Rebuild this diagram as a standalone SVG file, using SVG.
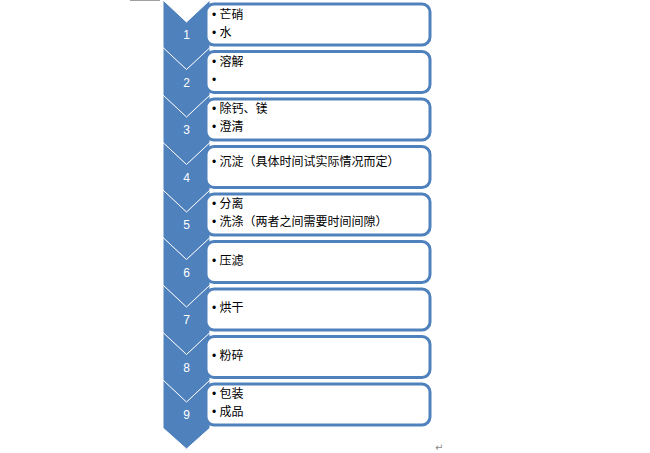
<svg xmlns="http://www.w3.org/2000/svg" width="650" height="453" viewBox="0 0 650 453">
<style>
.ch{fill:#4f81bd;stroke:#fff;stroke-width:1}
.bx{fill:#fff;stroke:#4f81bd;stroke-width:3}
.n{font-family:"Liberation Sans",sans-serif;font-size:12px;fill:#fff;text-anchor:middle}
.t{font-family:"Liberation Sans","Noto Sans CJK SC",sans-serif;font-size:12px;fill:#000}
</style>
<rect width="650" height="453" fill="#fff"/>
<line x1="130" y1="0.5" x2="160" y2="0.5" stroke="#a0a0a0"/>
<g id="s1"><path class="ch" d="M163,0 L186.5,22 L210,0 L210,48 L186.5,70 L163,48Z"/><text class="n" x="186.5" y="39">1</text><rect class="bx" x="206" y="4" width="224" height="41" rx="8"/><text class="t" x="212" y="19">• 芒硝</text><text class="t" x="212" y="37">• 水</text></g>
<g id="s2"><path class="ch" d="M163,47.5 L186.5,69.5 L210,47.5 L210,95.5 L186.5,117.5 L163,95.5Z"/><text class="n" x="186.5" y="86.5">2</text><rect class="bx" x="206" y="51.5" width="224" height="41" rx="8"/><text class="t" x="212" y="66">• 溶解</text><text class="t" x="212" y="84">•</text></g>
<g id="s3"><path class="ch" d="M163,95 L186.5,117 L210,95 L210,143 L186.5,165 L163,143Z"/><text class="n" x="186.5" y="134">3</text><rect class="bx" x="206" y="99" width="224" height="41" rx="8"/><text class="t" x="212" y="113">• 除钙、镁</text><text class="t" x="212" y="131">• 澄清</text></g>
<g id="s4"><path class="ch" d="M163,142.5 L186.5,164.5 L210,142.5 L210,190.5 L186.5,212.5 L163,190.5Z"/><text class="n" x="186.5" y="181.5">4</text><rect class="bx" x="206" y="146.5" width="224" height="41" rx="8"/><text class="t" x="212" y="166">• 沉淀（具体时间试实际情况而定）</text></g>
<g id="s5"><path class="ch" d="M163,190 L186.5,212 L210,190 L210,238 L186.5,260 L163,238Z"/><text class="n" x="186.5" y="229">5</text><rect class="bx" x="206" y="194" width="224" height="41" rx="8"/><text class="t" x="212" y="208">• 分离</text><text class="t" x="212" y="226">• 洗涤（两者之间需要时间间隙）</text></g>
<g id="s6"><path class="ch" d="M163,237.5 L186.5,259.5 L210,237.5 L210,285.5 L186.5,307.5 L163,285.5Z"/><text class="n" x="186.5" y="276.5">6</text><rect class="bx" x="206" y="241.5" width="224" height="41" rx="8"/><text class="t" x="212" y="265">• 压滤</text></g>
<g id="s7"><path class="ch" d="M163,285 L186.5,307 L210,285 L210,333 L186.5,355 L163,333Z"/><text class="n" x="186.5" y="324">7</text><rect class="bx" x="206" y="289" width="224" height="41" rx="8"/><text class="t" x="212" y="312">• 烘干</text></g>
<g id="s8"><path class="ch" d="M163,332.5 L186.5,354.5 L210,332.5 L210,380.5 L186.5,402.5 L163,380.5Z"/><text class="n" x="186.5" y="371.5">8</text><rect class="bx" x="206" y="336.5" width="224" height="41" rx="8"/><text class="t" x="212" y="360">• 粉碎</text></g>
<g id="s9"><path class="ch" d="M163,380 L186.5,402 L210,380 L210,428 L186.5,449 L163,428Z"/><text class="n" x="186.5" y="419">9</text><rect class="bx" x="206" y="384" width="224" height="41" rx="8"/><text class="t" x="212" y="398">• 包装</text><text class="t" x="212" y="416">• 成品</text></g>
<g id="connectors"></g>
<text x="435" y="451" font-family="'DejaVu Sans',sans-serif" font-size="10" fill="#888">↵</text>
</svg>
